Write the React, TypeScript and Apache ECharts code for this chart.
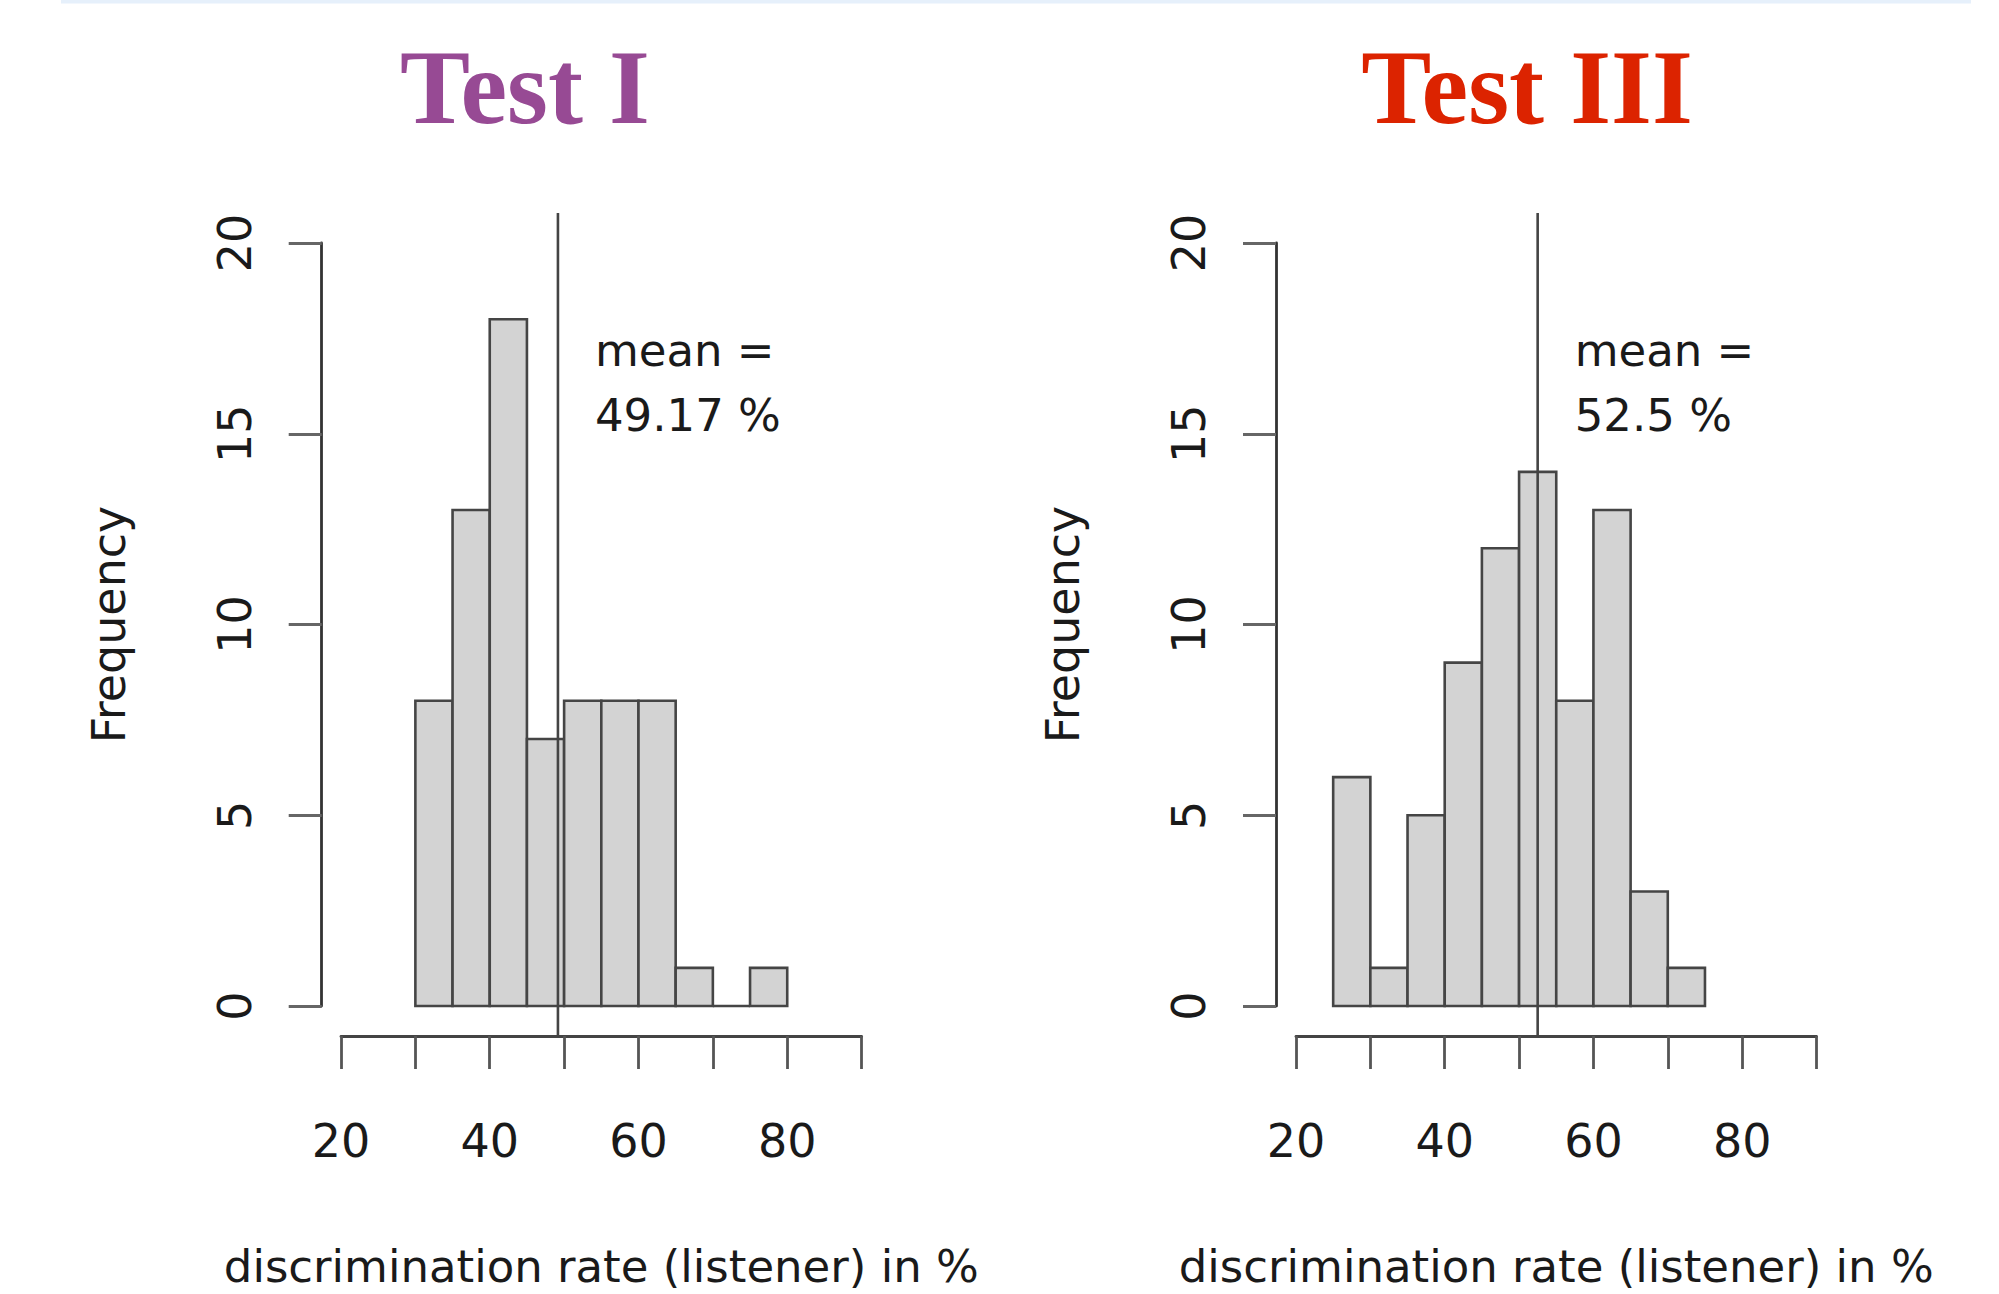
import React, { useEffect, useRef } from "react";
import * as echarts from "echarts";

// ---- data ----
const titles = ["Test I", "Test III"];
const titleColors = ["#974a94", "#dc2300"];
const binStartsI = [30, 35, 40, 45, 50, 55, 60, 65, 70, 75];
const countsI = [8, 13, 18, 7, 8, 8, 8, 1, 0, 1];
const binStartsIII = [25, 30, 35, 40, 45, 50, 55, 60, 65, 70];
const countsIII = [6, 1, 5, 9, 12, 14, 8, 13, 3, 1];
const binWidth = 5;
const means = [49.17, 52.5];
const xTicks = { min: 20, max: 90, interval: 10 };
const xLabelValues = [20, 40, 60, 80];
const yTicks = { min: 0, max: 20, interval: 5 };
const xAxisTitle = "discrimination rate (listener) in %";
const yAxisTitle = "Frequency";

const FONT = '"DejaVu Sans", sans-serif';

function histRows(starts: number[], counts: number[]) {
  return starts.map((s, i) => [s, s + binWidth, counts[i]]);
}

export default function App() {
  const ref = useRef<HTMLDivElement>(null);
  useEffect(() => {
    if (!ref.current) return;
    const chart = echarts.init(ref.current, undefined, { renderer: "svg" });

    const grids = [
      { left: 341, top: 243, width: 520.6, height: 766 },
      { left: 1296, top: 243, width: 520.5, height: 766 },
    ];
    const yOffsets = [19.3, 20];

    const xAxes = grids.map((_, i) => ({
      type: "value",
      gridIndex: i,
      min: xTicks.min,
      max: xTicks.max,
      interval: xTicks.interval,
      offset: 30,
      axisLine: { show: true, onZero: false, lineStyle: { color: "#444", width: 2.8 } },
      axisTick: { show: true, length: 33, lineStyle: { color: "#555", width: 2.8 } },
      splitLine: { show: false },
      axisLabel: {
        margin: 82,
        fontSize: 46,
        color: "#1a1a1a",
        fontFamily: FONT,
        formatter: (v: number) => (xLabelValues.includes(v) ? String(v) : ""),
      },
      name: xAxisTitle,
      nameLocation: "middle",
      nameGap: 208,
      nameTextStyle: { fontSize: 45, color: "#1a1a1a", fontFamily: FONT },
    }));

    const yAxes = grids.map((_, i) => ({
      type: "value",
      gridIndex: i,
      min: yTicks.min,
      max: yTicks.max,
      interval: yTicks.interval,
      offset: yOffsets[i],
      axisLine: { show: true, onZero: false, lineStyle: { color: "#333", width: 2.8 } },
      axisTick: { show: true, length: 33, lineStyle: { color: "#666", width: 2.8 } },
      splitLine: { show: false },
      axisLabel: {
        rotate: 90,
        margin: 64,
        fontSize: 46,
        color: "#1a1a1a",
        fontFamily: FONT,
      },
      name: yAxisTitle,
      nameLocation: "middle",
      nameGap: 190,
      nameTextStyle: { fontSize: 46, color: "#1a1a1a", fontFamily: FONT },
    }));

    const histSeries = [histRows(binStartsI, countsI), histRows(binStartsIII, countsIII)].map(
      (rows, i) => ({
        type: "custom",
        xAxisIndex: i,
        yAxisIndex: i,
        data: rows,
        encode: { x: [0, 1], y: 2 },
        renderItem: (params: any, api: any) => {
          const p0 = api.coord([api.value(0), api.value(2)]);
          const p1 = api.coord([api.value(1), 0]);
          return {
            type: "rect",
            shape: { x: p0[0], y: p0[1], width: p1[0] - p0[0], height: p1[1] - p0[1] },
            style: { fill: "#d3d3d3", stroke: "#454545", lineWidth: 2.6 },
          };
        },
      })
    );

    const meanSeries = means.map((m, i) => ({
      type: "custom",
      xAxisIndex: i,
      yAxisIndex: i,
      data: [[m]],
      encode: { x: 0 },
      z: 5,
      renderItem: (params: any, api: any) => {
        const v = api.value(0);
        const bottom = api.coord([v, yTicks.min]);
        const top = api.coord([v, yTicks.max]);
        return {
          type: "group",
          children: [
            {
              type: "line",
              shape: { x1: bottom[0], y1: top[1] - 30, x2: bottom[0], y2: bottom[1] + 30 },
              style: { stroke: "#444", lineWidth: 2.6 },
            },
            {
              type: "text",
              x: bottom[0] + 37,
              y: top[1] + 74.5,
              style: {
                text: "mean =\n" + v + " %",
                font: "45px " + FONT,
                lineHeight: 65,
                fill: "#1a1a1a",
                align: "left",
                verticalAlign: "top",
              },
            },
          ],
        };
      },
    }));

    const graphics: any[] = [
      {
        type: "rect",
        shape: { x: 61, y: 0, width: 1910, height: 3.5 },
        style: { fill: "#e6f0fb" },
      },
      ...titles.map((t, i) => ({
        type: "text",
        x: i === 0 ? 525 : 1527,
        y: 87.6,
        style: {
          text: t,
          font: 'bold 105px "Liberation Serif", "Times New Roman", serif',
          fill: titleColors[i],
          align: "center",
          verticalAlign: "middle",
        },
      })),
    ];

    chart.setOption({
      animation: false,
      backgroundColor: "#ffffff",
      textStyle: { fontFamily: FONT },
      grid: grids,
      xAxis: xAxes,
      yAxis: yAxes,
      series: [...histSeries, ...meanSeries],
      graphic: graphics,
    });

    return () => chart.dispose();
  }, []);

  return (
    <div
      ref={ref}
      style={{ position: "absolute", left: 0, top: 0, width: 1999, height: 1294 }}
    />
  );
}
